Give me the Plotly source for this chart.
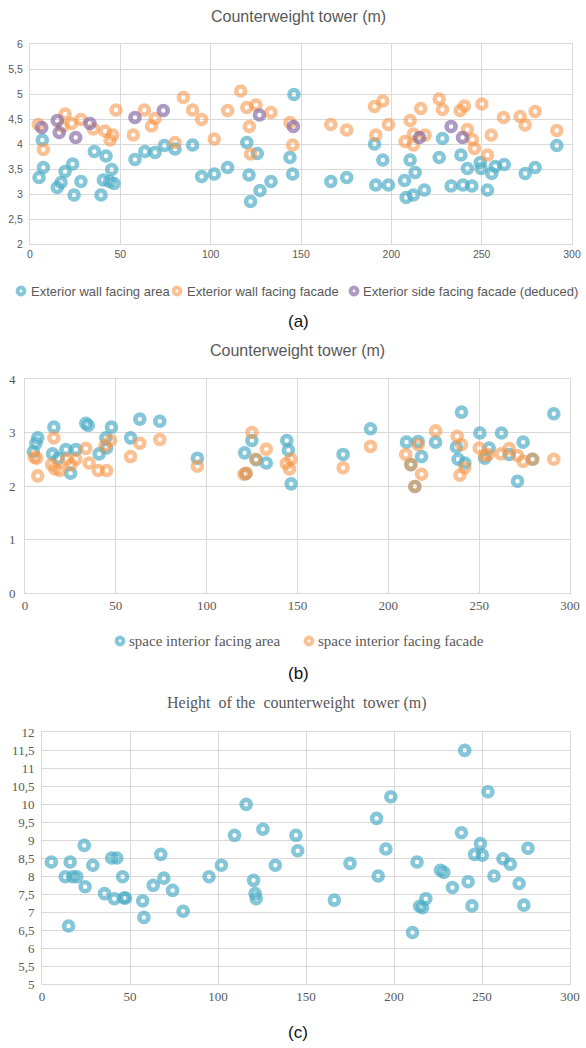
import plotly.graph_objects as go

# ---------------- data ----------------
# (a) Counterweight tower (m)
a_area_x = [5, 6.8, 7.4, 15.1, 17.2, 19.4, 23.6, 24.4, 28.2, 35.6, 39.3, 42.1, 40.6, 44, 45.2, 46.5, 58.1, 63.6, 69.2, 74.4,
            80.3, 90, 95, 102, 109.4, 120, 121.2, 122.1, 125.8, 127.3, 133.4, 143.9, 145.4, 146.1, 166.5, 175.3, 190.7, 195.3,
            191.4, 198.4, 207.3, 208.2, 212.2, 210.4, 213.2, 218.3, 226.5, 228.3, 233.1, 239.6, 244.6, 238.5, 242.1, 249.2,
            249.7, 253.2, 255.6, 257.5, 262.5, 274.1, 279.6, 291.6]
a_area_y = [3.33, 4.08, 3.53, 3.13, 3.23, 3.45, 3.6, 2.98, 3.25, 3.85, 2.98, 3.76, 3.28, 3.25, 3.49, 3.21, 3.69, 3.85, 3.83, 3.97,
            3.9, 3.98, 3.35, 3.4, 3.53, 4.03, 3.38, 2.85, 3.81, 3.07, 3.25, 3.73, 3.4, 4.99, 3.25, 3.33, 4.0, 3.68,
            3.18, 3.18, 3.27, 2.93, 2.98, 3.68, 3.43, 3.08, 3.73, 4.11, 3.16, 3.18, 3.16, 3.78, 3.51, 3.63,
            3.51, 3.08, 3.41, 3.55, 3.59, 3.41, 3.53, 3.97]
a_facade_x = [4.6, 7.4, 19.4, 18.1, 23.1, 28.2, 35.1, 41.5, 44.3, 45.8, 47.6, 57.2, 63.3, 67.3, 69.2, 80.3, 84.9, 90, 95, 102,
              109.4, 116.6, 120, 121.4, 122.1, 125.1, 133.4, 143.9, 145.4, 166.5, 175.3, 190.7, 195.3, 191.4, 198.4, 207.6,
              210.4, 212.2, 212.2, 216.3, 218.7, 226.5, 228.3, 238.1, 240.4, 242.1, 244.9, 246, 250.1, 253.2, 255.3, 262.1,
              271.3, 274.1, 279.6, 291.6]
a_facade_y = [4.39, 3.89, 4.6, 4.35, 4.41, 4.49, 4.3, 4.26, 4.08, 4.18, 4.68, 4.18, 4.68, 4.36, 4.51, 4.03, 4.93, 4.68, 4.49, 4.1,
              4.67, 5.06, 4.73, 4.35, 3.8, 4.78, 4.63, 4.43, 3.98, 4.39, 4.28, 4.75, 4.86, 4.18, 4.39, 4.05,
              4.47, 4.2, 3.98, 4.71, 4.18, 4.9, 4.69, 4.67, 4.76, 4.29, 4.09, 3.91, 4.8, 3.78, 4.18, 4.53,
              4.55, 4.38, 4.65, 4.27]
a_side_x = [6.5, 15.1, 16.2, 25.3, 33.2, 58.1, 73.8, 127, 145.8, 215.6, 233.1, 239.4]
a_side_y = [4.33, 4.47, 4.23, 4.13, 4.41, 4.53, 4.67, 4.58, 4.35, 4.13, 4.35, 4.13]

# (b) Counterweight tower (m)
b_area_x = [4.6, 6, 7, 15.9, 15.2, 18.3, 22.5, 25.1, 28, 33.5, 34.8, 40.8, 44.5, 44.9, 47.6, 58.1, 63.2, 74.2, 94.9, 120.9,
            121.5, 124.9, 127.3, 132.8, 144.1, 145, 146.5, 175.1, 190.2, 210, 212.4, 214.6, 216.4, 218.3, 226, 237.5,
            240.3, 238.4, 242.1, 250.4, 253.1, 255.5, 262.3, 266.5, 271.1, 274.2, 279.4, 291.1]
b_area_y = [2.64, 2.8, 2.9, 3.1, 2.6, 2.52, 2.68, 2.24, 2.68, 3.17, 3.13, 2.6, 2.9, 2.71, 3.1, 2.9, 3.25, 3.21, 2.52, 2.62,
            2.23, 2.85, 2.49, 2.43, 2.85, 2.67, 2.04, 2.59, 3.07, 2.82, 2.4, 1.99, 2.83, 2.55, 2.82, 2.73,
            3.38, 2.5, 2.43, 2.99, 2.52, 2.71, 2.99, 2.59, 2.09, 2.82, 2.5, 3.35]
b_facade_x = [5.1, 6.4, 7, 15.9, 14.7, 16.5, 19.2, 22.9, 25.3, 28, 33.5, 35.3, 40.3, 44.9, 44, 47.1, 58.1, 63.2, 74.2, 94.9,
              120.5, 121.8, 124.9, 127, 132.8, 143.8, 145.6, 146.5, 175.1, 190.2, 209.6, 212.4, 216.4, 214.6, 218.3, 226,
              237.9, 240.3, 239.4, 242.1, 250, 253.1, 255, 262, 266.5, 271.1, 274.2, 279.4, 291.1]
b_facade_y = [2.54, 2.52, 2.19, 2.9, 2.4, 2.32, 2.29, 2.5, 2.4, 2.5, 2.7, 2.43, 2.29, 2.29, 2.75, 2.85, 2.55, 2.8, 2.87, 2.37,
              2.22, 2.24, 3.0, 2.5, 2.69, 2.42, 2.32, 2.5, 2.34, 2.74, 2.59, 2.4, 2.77, 1.99, 2.22, 3.03,
              2.93, 2.77, 2.2, 2.34, 2.71, 2.57, 2.59, 2.6, 2.7, 2.57, 2.46, 2.5, 2.5]

# (c) Height of the counterweight tower (m)
c_x = [5.3, 13.2, 16, 15.1, 17.5, 19.8, 24, 24.5, 28.9, 35.5, 39.6, 42.5, 41.1, 45.8, 46.6, 47.5, 57.2, 57.9, 63.2, 67.5,
       69.2, 74.2, 80.2, 94.9, 101.9, 109.4, 116, 120.2, 121.1, 121.7, 125.5, 132.6, 144.3, 145.3, 166.1, 175, 190.1, 191,
       195.4, 198.2, 210.5, 213.1, 214.6, 216.2, 218.1, 226.4, 228.3, 233.2, 238.3, 240.2, 242.1, 244.3, 245.8, 249.1,
       250.2, 253.4, 256.8, 261.9, 266.1, 271.1, 273.8, 276.1]
c_y = [8.39, 7.98, 8.39, 6.61, 7.98, 7.98, 8.85, 7.7, 8.3, 7.51, 8.5, 8.5, 7.37, 7.98, 7.39, 7.39, 7.31, 6.85, 7.74, 8.6,
       7.94, 7.6, 7.02, 7.98, 8.3, 9.13, 9.99, 7.88, 7.51, 7.37, 9.3, 8.3, 9.13, 8.7, 7.33, 8.35, 9.6, 8.0,
       8.75, 10.2, 6.43, 8.39, 7.16, 7.12, 7.37, 8.16, 8.1, 7.68, 9.2, 11.49, 7.84, 7.17, 8.6, 8.9,
       8.58, 10.34, 8.0, 8.48, 8.33, 7.79, 7.19, 8.77]

x_ticks = [0, 50, 100, 150, 200, 250, 300]
x_ticktext = ["0", "50", "100", "150", "200", "250", "300"]
a_yticks = [2, 2.5, 3, 3.5, 4, 4.5, 5, 5.5, 6]
a_yticktext = ["2", "2,5", "3", "3,5", "4", "4,5", "5", "5,5", "6"]
b_yticks = [0, 1, 2, 3, 4]
b_yticktext = ["0", "1", "2", "3", "4"]
c_yticks = [5, 5.5, 6, 6.5, 7, 7.5, 8, 8.5, 9, 9.5, 10, 10.5, 11, 11.5, 12]
c_yticktext = ["5", "5,5", "6", "6,5", "7", "7,5", "8", "8,5", "9", "9,5", "10", "10,5", "11", "11,5", "12"]

legend_a = ["Exterior wall facing area", "Exterior wall facing facade", "Exterior side facing facade (deduced)"]
legend_b = ["space interior facing area", "space interior facing facade"]

# ---------------- styling ----------------
W, H = 586, 1048
BLUE = "rgba(75,172,198,0.68)"
ORANGE = "rgba(247,150,70,0.58)"
PURPLE = "rgba(128,100,162,0.65)"
GRID = "#d9d9d9"
TXT = "#595959"
SANS = "Liberation Sans, Arial, sans-serif"
SERIF = "Liberation Serif, Times New Roman, serif"


def xp(px):
    return px / W


def yp(py):
    return 1 - py / H


def marker(color):
    return dict(symbol="circle-open", size=9, color=color, line=dict(width=4.6, color=color))


fig = go.Figure()
fig.add_trace(go.Scatter(x=a_area_x, y=a_area_y, mode="markers", marker=marker(BLUE), xaxis="x", yaxis="y",
                         name=legend_a[0], showlegend=False))
fig.add_trace(go.Scatter(x=a_facade_x, y=a_facade_y, mode="markers", marker=marker(ORANGE), xaxis="x", yaxis="y",
                         name=legend_a[1], showlegend=False))
fig.add_trace(go.Scatter(x=a_side_x, y=a_side_y, mode="markers", marker=marker(PURPLE), xaxis="x", yaxis="y",
                         name=legend_a[2], showlegend=False))
fig.add_trace(go.Scatter(x=b_area_x, y=b_area_y, mode="markers", marker=marker(BLUE), xaxis="x2", yaxis="y2",
                         name=legend_b[0], showlegend=False))
fig.add_trace(go.Scatter(x=b_facade_x, y=b_facade_y, mode="markers", marker=marker(ORANGE), xaxis="x2", yaxis="y2",
                         name=legend_b[1], showlegend=False))
fig.add_trace(go.Scatter(x=c_x, y=c_y, mode="markers", marker=marker(BLUE), xaxis="x3", yaxis="y3",
                         name="Height", showlegend=False))


def xaxis(dom, font):
    return dict(domain=dom, range=[0, 300], tickvals=x_ticks, ticktext=x_ticktext, showgrid=True, gridcolor=GRID,
                gridwidth=1, zeroline=False, showline=True, linecolor=GRID, mirror=True, ticks="",
                tickfont=font, automargin=False, fixedrange=True)


def yaxis(dom, rng, vals, texts, font, standoff):
    return dict(domain=dom, range=rng, tickvals=vals, ticktext=texts, showgrid=True, gridcolor=GRID, gridwidth=1,
                zeroline=False, showline=True, linecolor=GRID, mirror=True, ticks="", tickfont=font,
                automargin=False, fixedrange=True, ticklabelstandoff=standoff)


font_a = dict(family=SANS, size=10.5, color=TXT)
font_b = dict(family=SERIF, size=13, color=TXT)
font_c = dict(family=SERIF, size=13, color=TXT)

fig.update_layout(
    width=W, height=H, margin=dict(l=0, r=0, t=0, b=0),
    paper_bgcolor="white", plot_bgcolor="white", showlegend=False,
    separators=", ",
    xaxis=dict(xaxis([xp(30), xp(572)], font_a), anchor="y"),
    yaxis=dict(yaxis([yp(244), yp(44)], [2, 6], a_yticks, a_yticktext, font_a, 4), anchor="x"),
    xaxis2=dict(xaxis([xp(25), xp(570)], font_b), anchor="y2"),
    yaxis2=dict(yaxis([yp(593), yp(379)], [0, 4], b_yticks, b_yticktext, font_b, 6), anchor="x2"),
    xaxis3=dict(xaxis([xp(42), xp(570)], font_c), anchor="y3"),
    yaxis3=dict(yaxis([yp(984), yp(732)], [5, 12], c_yticks, c_yticktext, font_c, 4), anchor="x3"),
)

ann = []
shapes = []


def text(px, py, s, font, xanchor="center"):
    ann.append(dict(x=xp(px), y=yp(py), xref="paper", yref="paper", text=s, showarrow=False, font=font,
                    xanchor=xanchor, yanchor="middle"))


def legend_dot(cx, cy, color):
    r = 5.4
    shapes.append(dict(type="circle", xref="paper", yref="paper", x0=xp(cx - r), x1=xp(cx + r), y0=yp(cy + r),
                       y1=yp(cy - r), fillcolor=color, line=dict(width=0)))
    r2 = 1.4
    shapes.append(dict(type="circle", xref="paper", yref="paper", x0=xp(cx - r2), x1=xp(cx + r2), y0=yp(cy + r2),
                       y1=yp(cy - r2), fillcolor="white", line=dict(width=0)))


# titles
text(298, 16, "Counterweight tower (m)", dict(family=SANS, size=16, color=TXT))
text(297, 351, "Counterweight tower (m)", dict(family=SANS, size=16, color=TXT))
text(296, 703, "Height\u00a0 of the\u00a0 counterweight\u00a0 tower (m)", dict(family=SERIF, size=16, color=TXT))

# panel labels
text(298, 322, "(a)", dict(family=SANS, size=17, color="#111111"))
text(298, 673, "(b)", dict(family=SANS, size=17, color="#111111"))
text(298, 1032, "(c)", dict(family=SANS, size=17, color="#111111"))

# legend (a)
lf_a = dict(family=SANS, size=13, color=TXT)
legend_dot(21, 291, BLUE)
text(29, 291, legend_a[0], lf_a, "left")
legend_dot(177, 291, ORANGE)
text(185, 291, legend_a[1], lf_a, "left")
legend_dot(354, 291, PURPLE)
text(361, 291, legend_a[2], lf_a, "left")

# legend (b)
lf_b = dict(family=SERIF, size=15, color=TXT)
legend_dot(120, 641, BLUE)
text(127, 641, legend_b[0], lf_b, "left")
legend_dot(309, 641, ORANGE)
text(316, 641, legend_b[1], lf_b, "left")

fig.update_layout(annotations=ann, shapes=shapes)
fig.write_html(
    "out.html",
    config={"displayModeBar": False},
    post_script="document.body.style.margin='0';document.body.style.overflow='hidden';",
)
